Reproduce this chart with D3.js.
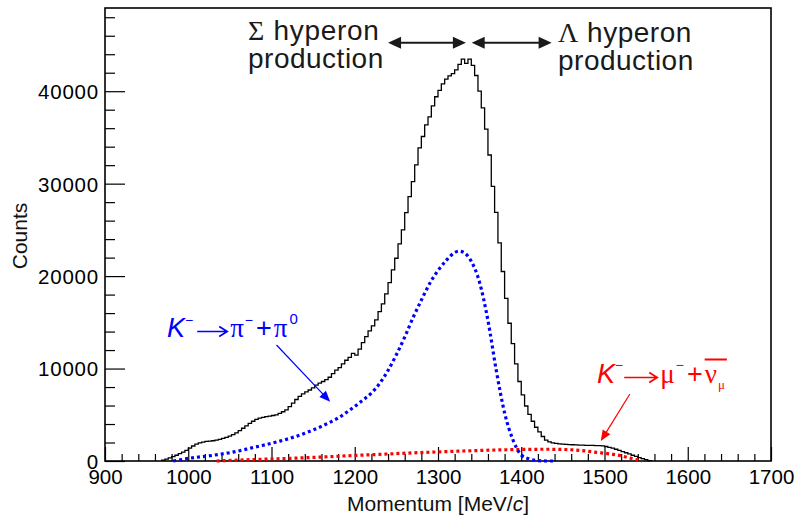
<!DOCTYPE html>
<html>
<head>
<meta charset="utf-8">
<script src="https://cdn.jsdelivr.net/npm/d3@7"></script>
<style>
  html, body { margin: 0; padding: 0; background: #fff; }
  svg { display: block; font-family: "Liberation Sans", Arial, Helvetica, sans-serif; }
</style>
</head>
<body>
<svg id="chart" width="795" height="517"></svg>
<script>
// ---- data ---------------------------------------------------------------
// Momentum histogram: 4 MeV/c bins, first bin starts at 968 MeV/c
const firstBinEdge = 968;
const binWidth = 4;
const histCounts = [
  80, 200, 330, 470, 620, 800, 960, 1150, 1400, 1620,
  1820, 1960, 2040, 2120, 2160, 2190, 2250, 2340, 2440, 2560,
  2690, 2850, 3050, 3290, 3540, 3800, 4060, 4300, 4500, 4640,
  4720, 4790, 4860, 4920, 5000, 5150, 5330, 5540, 5880, 6250,
  6650, 6980, 7260, 7480, 7680, 7900, 8200, 8430, 8600, 8800,
  9060, 9450, 9820, 10100, 10500, 10900, 11200, 11650, 11450, 12100,
  12800, 13450, 14070, 14610, 15260, 16160, 16990, 18070, 19300, 20670,
  21930, 23480, 25000, 26870, 28600, 30230, 32030, 33870, 35100, 36360,
  37230, 38420, 39400, 40100, 40800, 41300, 41650, 41900, 42300, 42900,
  43470, 43000, 43470, 42800, 41700, 40000, 38200, 35900, 33100, 29700,
  26900, 23600, 20500, 17600, 14900, 12700, 10500, 8600, 7150, 5950,
  5050, 4300, 3650, 3150, 2650, 2250, 2060, 1960, 1900, 1850,
  1820, 1800, 1780, 1760, 1740, 1720, 1710, 1700, 1690, 1680,
  1670, 1660, 1640, 1570, 1480, 1390, 1270, 1150, 1020, 890,
  760, 620, 490, 370, 250, 140, 50
];

// K- -> pi- + pi0 component
const piMomentum = [982, 990, 1000, 1010, 1020, 1030, 1040, 1050, 1060, 1070,
  1080, 1090, 1100, 1110, 1120, 1130, 1140, 1150, 1160, 1170,
  1180, 1190, 1200, 1210, 1220, 1230, 1240, 1250, 1260, 1270,
  1280, 1290, 1300, 1310, 1320, 1325, 1330, 1340, 1350, 1360,
  1370, 1380, 1390, 1400, 1410, 1420, 1430, 1438];
const piCounts = [0, 120, 280, 400, 500, 620, 760, 900, 1080, 1280,
  1500, 1700, 1920, 2150, 2400, 2680, 3000, 3350, 3750, 4180,
  4650, 5250, 5900, 6600, 7350, 8400, 9800, 11500, 13400, 15500,
  17400, 19200, 20600, 21700, 22550, 22700, 22600, 21600, 19300, 15200,
  9800, 5200, 2300, 650, 220, 40, 0, 0];

// K- -> mu- + anti-nu_mu component
const muMomentum = [1034, 1050, 1070, 1090, 1110, 1130, 1150, 1170, 1190, 1210,
  1230, 1250, 1270, 1290, 1310, 1330, 1350, 1370, 1390, 1410,
  1430, 1450, 1470, 1490, 1510, 1520, 1530, 1540, 1545];
const muCounts = [0, 60, 130, 190, 250, 310, 390, 470, 560, 640,
  720, 800, 880, 950, 1020, 1080, 1140, 1190, 1230, 1260,
  1270, 1250, 1150, 940, 720, 560, 330, 100, 0];

// axis ticks
const xMajorTicks = [900, 1000, 1100, 1200, 1300, 1400, 1500, 1600, 1700];
const yMajorTicks = [0, 10000, 20000, 30000, 40000];
const xMinorStep = 20;
const yMinorStep = 2000;

// ---- layout -------------------------------------------------------------
const svg = d3.select("#chart");
const plot = { left: 105, right: 771, top: 8, bottom: 461 };

const x = d3.scaleLinear().domain([900, 1700]).range([plot.left, plot.right]);
const y = d3.scaleLinear().domain([0, 49000]).range([plot.bottom, plot.top]);

const serif = '"Liberation Serif", "Times New Roman", serif';
const sans = '"Liberation Sans", Arial, Helvetica, sans-serif';

// ---- axes ---------------------------------------------------------------
const yMinor = d3.range(0, 49000, yMinorStep).filter(v => v % 10000 !== 0);
const xMinor = d3.range(900, 1700, xMinorStep).filter(v => v % 100 !== 0);

svg.append("g")
  .attr("transform", `translate(${plot.left},0)`)
  .call(d3.axisLeft(y).tickValues(yMinor).tickSize(-10).tickFormat(""))
  .call(g => g.select(".domain").remove());

svg.append("g")
  .attr("transform", `translate(${plot.left},0)`)
  .call(d3.axisLeft(y).tickValues(yMajorTicks).tickSize(-20).tickPadding(6).tickFormat(d3.format("d")))
  .call(g => g.select(".domain").remove())
  .call(g => g.selectAll("text")
    .attr("font-family", sans).attr("font-size", 20.5).attr("letter-spacing", 0.8)
    .attr("fill", "#000").attr("dy", "0.36em"));

svg.append("g")
  .attr("transform", `translate(0,${plot.bottom})`)
  .call(d3.axisBottom(x).tickValues(xMinor).tickSize(-7).tickFormat(""))
  .call(g => g.select(".domain").remove());

svg.append("g")
  .attr("transform", `translate(0,${plot.bottom})`)
  .call(d3.axisBottom(x).tickValues(xMajorTicks).tickSize(-14).tickPadding(8).tickFormat(d3.format("d")))
  .call(g => g.select(".domain").remove())
  .call(g => g.selectAll("text")
    .attr("font-family", sans).attr("font-size", 20.5).attr("fill", "#000"));

svg.selectAll(".tick line").attr("stroke", "#000").attr("stroke-width", 1.2);

// frame
svg.append("rect")
  .attr("x", plot.left).attr("y", plot.top)
  .attr("width", plot.right - plot.left).attr("height", plot.bottom - plot.top)
  .attr("fill", "none").attr("stroke", "#000").attr("stroke-width", 1.6);

// axis titles
svg.append("text")
  .attr("x", (plot.left + plot.right) / 2).attr("y", 511)
  .attr("text-anchor", "middle").attr("font-size", 21).attr("fill", "#111")
  .call(t => {
    t.append("tspan").text("Momentum [MeV/");
    t.append("tspan").attr("font-style", "italic").text("c");
    t.append("tspan").text("]");
  });

svg.append("text")
  .attr("transform", "translate(27,236) rotate(-90)")
  .attr("text-anchor", "middle").attr("font-size", 21).attr("fill", "#111")
  .text("Counts");

// ---- histogram ----------------------------------------------------------
const histPoints = [[firstBinEdge, 0]]
  .concat(histCounts.map((c, i) => [firstBinEdge + i * binWidth, c]))
  .concat([[firstBinEdge + histCounts.length * binWidth, 0]]);

svg.append("path")
  .attr("d", d3.line().x(d => x(d[0])).y(d => y(d[1])).curve(d3.curveStepAfter)(histPoints))
  .attr("fill", "none").attr("stroke", "#000").attr("stroke-width", 1.3);

// ---- decay components (dotted) ------------------------------------------
const smooth = d3.line().x(d => x(d[0])).y(d => y(d[1])).curve(d3.curveMonotoneX);

svg.append("path")
  .attr("d", smooth(d3.zip(muMomentum, muCounts)))
  .attr("fill", "none").attr("stroke", "#ff0000").attr("stroke-width", 3.2)
  .attr("stroke-dasharray", "3 3");

svg.append("path")
  .attr("d", smooth(d3.zip(piMomentum, piCounts)))
  .attr("fill", "none").attr("stroke", "#0000ff").attr("stroke-width", 3.2)
  .attr("stroke-dasharray", "3 3");

// ---- annotations --------------------------------------------------------
function arrow(g, x1, y1, x2, y2, opt) {
  const color = opt.color, len = opt.head, half = opt.half;
  const ang = Math.atan2(y2 - y1, x2 - x1);
  const ux = Math.cos(ang), uy = Math.sin(ang);
  const head = (px, py, dx, dy) => {
    const bx = px - dx * len, by = py - dy * len;
    g.append("polygon")
      .attr("points", [[px, py], [bx - dy * half, by + dx * half], [bx + dy * half, by - dx * half]].map(p => p.join(",")).join(" "))
      .attr("fill", color);
  };
  const sx = opt.both ? x1 + ux * len * 0.8 : x1, sy = opt.both ? y1 + uy * len * 0.8 : y1;
  g.append("line")
    .attr("x1", sx).attr("y1", sy)
    .attr("x2", x2 - ux * len * 0.8).attr("y2", y2 - uy * len * 0.8)
    .attr("stroke", color).attr("stroke-width", opt.width);
  head(x2, y2, ux, uy);
  if (opt.both) head(x1, y1, -ux, -uy);
}

// Rich text built from pieces: {t, size, family, style, shift, dx}.
// A piece {arrowLen} leaves room for a drawn reaction arrow.
function richText(g, x0, y0, parts, fill, spacing) {
  const t = g.append("text").attr("x", x0).attr("y", y0).attr("fill", fill)
    .attr("letter-spacing", spacing || 0);
  let cur = 0, pendingDx = 0, chars = 0;
  const arrows = [];
  parts.forEach(p => {
    if (p.arrowLen) {
      arrows.push({ after: chars - 1, gap: p.gap, len: p.arrowLen, lift: p.lift });
      pendingDx += p.gap + p.arrowLen + p.gapAfter;
      return;
    }
    const shift = p.shift || 0;
    t.append("tspan")
      .attr("dy", shift - cur)
      .attr("dx", (p.dx || 0) + pendingDx)
      .attr("font-size", p.size)
      .attr("font-family", p.family || sans)
      .attr("font-style", p.style || "normal")
      .text(p.t);
    pendingDx = 0;
    chars += p.t.length;
    cur = shift;
  });
  const node = t.node();
  arrows.forEach(a => {
    const x1 = node.getEndPositionOfChar(a.after).x + a.gap;
    const x2 = x1 + a.len, yy = y0 - a.lift;
    g.append("path")
      .attr("d", `M${x1},${yy}H${x2}M${x2 - 8},${yy - 5}L${x2},${yy}L${x2 - 8},${yy + 5}`)
      .attr("fill", "none").attr("stroke", fill).attr("stroke-width", 1.7)
      .attr("stroke-linejoin", "miter");
  });
  return t;
}

const ann = svg.append("g");

// hyperon production regions
richText(ann, 248, 40, [{ t: "Σ", size: 28, family: serif }, { t: " hyperon", size: 28 }], "#1a1a1a", 0.7);
richText(ann, 248, 68, [{ t: "production", size: 28 }], "#1a1a1a", 0.5);
richText(ann, 558, 42, [{ t: "Λ", size: 28, family: serif }, { t: " hyperon", size: 28 }], "#1a1a1a", 0.5);
richText(ann, 558, 70, [{ t: "production", size: 28 }], "#1a1a1a", 0.5);

arrow(ann, x(1240), y(45250), x(1333.5), y(45250), { color: "#1a1a1a", head: 13, half: 6, width: 2, both: true });
arrow(ann, x(1340.5), y(45250), x(1436.5), y(45250), { color: "#1a1a1a", head: 13, half: 6, width: 2, both: true });

// K- -> pi- + pi0 label
richText(ann, 167, 337, [
  { t: "K", size: 27, style: "italic" },
  { t: "−", size: 14, shift: -12, dx: 0 },
  { arrowLen: 30, gap: 4, gapAfter: 3, lift: 5.5 },
  { t: "π", size: 27, family: serif },
  { t: "−", size: 14, shift: -12, dx: 1 },
  { t: "+", size: 27, dx: 3 },
  { t: "π", size: 27, family: serif, dx: 2 },
  { t: "0", size: 15, shift: -13, dx: 2 }
], "#0000ff");
arrow(ann, x(1106), y(12550), x(1170.5), y(6400), { color: "#0000ff", head: 11, half: 4.5, width: 1.2 });

// K- -> mu- + anti-nu_mu label
const muLabel = richText(ann, 597, 383, [
  { t: "K", size: 27, style: "italic" },
  { t: "−", size: 14, shift: -13 },
  { arrowLen: 33, gap: 1, gapAfter: 3, lift: 5.5 },
  { t: "μ", size: 27, family: serif },
  { t: "−", size: 14, shift: -13, dx: 1 },
  { t: "+", size: 27, dx: 3 },
  { t: "ν", size: 27, family: serif, dx: 2 },
  { t: "μ", size: 13, family: serif, shift: 6, dx: 1 }
], "#ff0000");
// bar over the neutrino
{
  const node = muLabel.node();
  const n = node.getNumberOfChars();
  const nuStart = node.getStartPositionOfChar(n - 2).x;
  const end = node.getEndPositionOfChar(n - 1).x;
  ann.append("line")
    .attr("x1", nuStart).attr("x2", end + 2)
    .attr("y1", 359.5).attr("y2", 359.5)
    .attr("stroke", "#ff0000").attr("stroke-width", 2);
}
arrow(ann, x(1530.5), y(7250), x(1495.5), y(2150), { color: "#ff0000", head: 11, half: 4.5, width: 1.2 });
</script>
</body>
</html>
